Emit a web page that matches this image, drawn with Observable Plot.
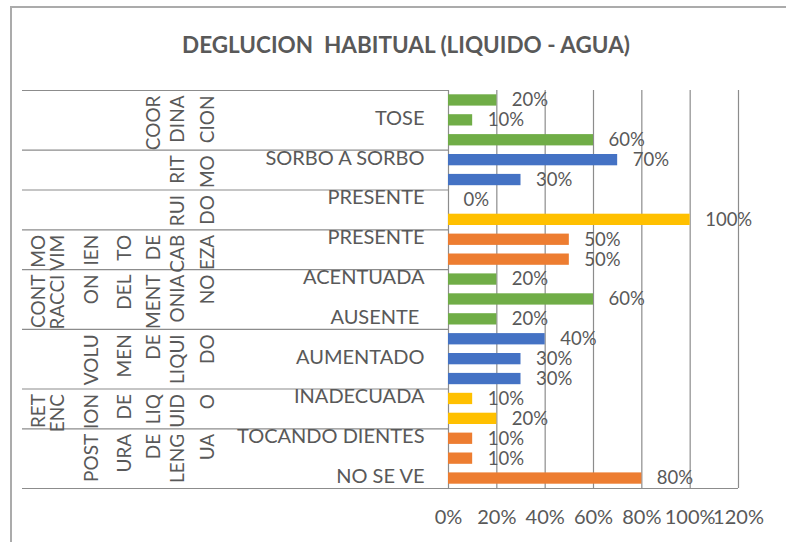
<!DOCTYPE html>
<html><head><meta charset="utf-8">
<script src="https://cdn.jsdelivr.net/npm/d3@7"></script>
<script src="https://cdn.jsdelivr.net/npm/@observablehq/plot@0.6"></script>
<style>
html,body{margin:0;padding:0;background:#fff;overflow:hidden}
#wrap{position:relative;width:786px;height:542px;overflow:hidden;font-family:Lato,sans-serif}
#title{position:absolute;top:31px;left:0;width:812px;text-align:center;font-weight:bold;font-size:22.5px;color:#595959;white-space:pre}
#border{position:absolute;left:10px;top:6px;width:800px;height:600px;border:2px solid #ababab;box-sizing:border-box;pointer-events:none}
svg text{white-space:pre}
</style></head><body>
<div id="wrap"><div id="chart"></div><div id="title"></div><div id="border"></div></div>
<script>
// ---- data ----
const chartTitle = "DEGLUCION  HABITUAL (LIQUIDO - AGUA)";
const groups = ["COORDINACION", "RITMO", "RUIDO", "MOVIMIENTO DE CABEZA", "CONTRACCION DEL MENTONIANO", "VOLUMEN DE LIQUIDO", "RETENCION DE LIQUIDO", "POSTURA DE LENGUA"];
const groupLines = [["COOR","DINA","CION"], ["RIT","MO"], ["RUI","DO"], ["MO","VIM","IEN","TO","DE","CAB","EZA"], ["CONT","RACCI","ON","DEL","MENT","ONIA","NO"], ["VOLU","MEN","DE","LIQUI","DO"], ["RET","ENC","ION","DE","LIQ","UID","O"], ["POST","URA","DE","LENG","UA"]];
const groupSizes = [3, 2, 2, 2, 3, 3, 2, 3];
const categories = ["", "TOSE", "", "SORBO A SORBO", "", "PRESENTE", "", "PRESENTE", "", "ACENTUADA", "", "AUSENTE ", "", "AUMENTADO", "", "INADECUADA", "", "TOCANDO DIENTES", "", "NO SE VE"];
const values = [0.2, 0.1, 0.6, 0.7, 0.3, 0, 1.0, 0.5, 0.5, 0.2, 0.6, 0.2, 0.4, 0.3, 0.3, 0.1, 0.2, 0.1, 0.1, 0.8];
const xTicks = [0, 0.2, 0.4, 0.6, 0.8, 1.0, 1.2];
const palette = ["#70AD47", "#4472C4", "#FFC000", "#ED7D31"];

// ---- derived tables ----
const groupOfRow = groupSizes.flatMap((n, g) => Array(n).fill(groups[g]));
const rows = values.map((v, i) => ({i, value: v, label: categories[i], group: groupOfRow[i]}));
const starts = d3.cumsum([0, ...groupSizes]);
const nRows = values.length;

// layout constants
const W = 786, H = 542, ML = 448, MR = 48, MT = 90, MB = 54;
const slotX = [38, 57, 91, 124, 153, 177, 207];
const lineData = groupLines.flatMap((lines, g) => lines.map((t, j) => ({text: t, start: starts[g], slot: slotX.length - lines.length + j})));
const grey = "#595959";
const fmt = d3.format(".0%");

const slotMarks = slotX.map((sx, s) => Plot.text(lineData.filter(d => d.slot === s), {
  frameAnchor: "left", y: "start", text: "text", rotate: -90, textAnchor: "end",
  dx: sx - ML, dy: 5, fill: grey, fontSize: 19
}));

const chart = Plot.plot({
  width: W, height: H,
  marginLeft: ML, marginRight: MR, marginTop: MT, marginBottom: MB,
  style: {fontFamily: "Lato, sans-serif", fontSize: "20px", color: grey, background: "none", overflow: "visible"},
  x: {domain: [0, 1.2], ticks: xTicks, tickFormat: fmt, tickSize: 0, tickPadding: 21, label: null},
  y: {domain: [0, nRows], reverse: true, axis: null},
  color: {domain: groups, range: groups.map((g, k) => palette[k % palette.length])},
  marks: [
    Plot.ruleX(xTicks, {stroke: "#8c8c8c", strokeWidth: 1.2}),
    Plot.ruleY(starts.slice(0, -1), {stroke: "#8c8c8c", strokeWidth: 1.2, insetLeft: -(ML - 22), insetRight: (W - MR) - ML}),
    Plot.ruleY([nRows], {stroke: "#8c8c8c", strokeWidth: 1.2, insetLeft: -(ML - 22)}),
    Plot.rect(rows, {x1: 0, x2: "value", y1: "i", y2: d => d.i + 1, insetTop: 4.3, insetBottom: 4.3, fill: "group"}),
    Plot.text(rows, {x: "value", y: d => d.i + 0.5, text: d => fmt(d.value), textAnchor: "start", dx: 15, fill: grey, fontSize: 18.5}),
    Plot.text(rows.filter(d => d.label), {frameAnchor: "left", y: d => d.i + 0.5, text: "label", textAnchor: "end", dx: -24, dy: -2, fill: grey}),
    ...slotMarks
  ]
});
document.getElementById("chart").appendChild(chart);
document.getElementById("title").textContent = chartTitle;
</script>
</body></html>
